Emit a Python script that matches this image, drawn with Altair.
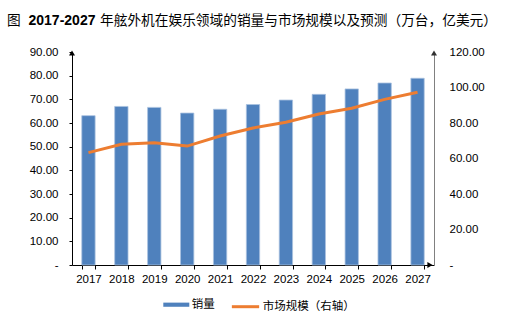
import altair as alt
import pandas as pd

years = ['2017', '2018', '2019', '2020', '2021', '2022', '2023', '2024', '2025', '2026', '2027']
sales = [63.1, 67.0, 66.6, 64.2, 65.8, 67.8, 69.7, 72.1, 74.4, 76.9, 78.9]
market = [63.3, 68.0, 68.9, 67.0, 72.7, 77.2, 80.4, 85.1, 88.3, 93.3, 97.3]
left_ticks = [0, 10, 20, 30, 40, 50, 60, 70, 80, 90]
right_ticks = [0, 20, 40, 60, 80, 100, 120]
title_prefix = '图'
title_years = '2017-2027'
title_rest = '年舷外机在娱乐领域的销量与市场规模以及预测（万台，亿美元）'
bar_label = '销量'
line_label = '市场规模（右轴）'

df = pd.DataFrame({'year': years, 'sales': sales, 'market': market,
                   'bar_s': bar_label, 'line_s': line_label})
one = pd.DataFrame({'k': [0]})

LAT = "Liberation Sans, Arial, 'Noto Sans CJK SC', sans-serif"
CJK = "'Noto Sans CJK SC', 'Liberation Sans', sans-serif"
W, H = 362, 213

x_enc = alt.X('year:N', sort=years, title=None,
              scale=alt.Scale(paddingInner=0.595, paddingOuter=0.2975),
              axis=alt.Axis(labelAngle=0, tickBand='extent', tickSize=4, labelPadding=4,
                            domainColor='black', tickColor='black', labelColor='black',
                            labelFontSize=11.5, labelFont=LAT, domainWidth=1, grid=False))

bars = alt.Chart(df).mark_bar(stroke='#A9C1E0', strokeWidth=0.8).encode(
    x=x_enc,
    y=alt.Y('sales:Q', title=None, scale=alt.Scale(domain=[0, 90], nice=False),
            axis=alt.Axis(values=left_ticks, grid=False, tickSize=3, labelPadding=11,
                          domainColor='black', tickColor='black', labelColor='black',
                          labelFontSize=11.5, labelFont=LAT,
                          labelExpr="datum.value == 0 ? '-\u00a0\u00a0' : format(datum.value, '.2f')")),
    color=alt.Color('bar_s:N', scale=alt.Scale(domain=[bar_label], range=['#4F81BD']),
                    legend=alt.Legend(orient='none', legendX=91.3, legendY=239.7, title=None,
                                      symbolType='M-1,-0.16H1V0.16H-1Z', symbolSize=676,
                                      symbolStrokeWidth=0, symbolOpacity=1, padding=0,
                                      labelOffset=2.5, labelFontSize=11.5, labelFont=CJK,
                                      labelColor='black'))
)

line = alt.Chart(df).mark_line(strokeWidth=3).encode(
    x=alt.X('year:N', sort=years),
    y=alt.Y('market:Q', title=None, scale=alt.Scale(domain=[0, 120], nice=False),
            axis=alt.Axis(orient='right', values=right_ticks, grid=False, ticks=False,
                          labelPadding=15, domainColor='#808080', labelColor='black',
                          labelFontSize=11.5, labelFont=LAT,
                          labelExpr="datum.value == 0 ? '-' : format(datum.value, '.2f')")),
    stroke=alt.Stroke('line_s:N', scale=alt.Scale(domain=[line_label], range=['#ED7D31']),
                      legend=alt.Legend(orient='none', legendX=158, legendY=239.2, title=None,
                                        symbolType='stroke', symbolSize=745,
                                        symbolStrokeWidth=3, padding=0, labelOffset=1.7,
                                        labelFontSize=11.5, labelFont=CJK, labelColor='black'))
)

arrow_left = alt.Chart(one).mark_point(shape='triangle-up', filled=True, size=36,
                                       color='black', opacity=1).encode(
    x=alt.value(0), y=alt.value(1))
arrow_right = alt.Chart(one).mark_point(shape='triangle-up', filled=True, size=36,
                                        color='#303030', opacity=1).encode(
    x=alt.value(W), y=alt.value(1))
arrow_x = alt.Chart(one).mark_point(shape='triangle-right', filled=True, size=36,
                                    color='black', opacity=1).encode(
    x=alt.value(W - 4), y=alt.value(H))

t1 = alt.Chart(one).mark_text(align='left', baseline='middle', font=CJK, fontSize=13.7,
                              color='black').encode(
    x=alt.value(-65), y=alt.value(-31), text=alt.value(title_prefix))
t2 = alt.Chart(one).mark_text(align='left', baseline='middle', font=LAT, fontSize=14,
                              fontWeight='bold', color='black').encode(
    x=alt.value(-43.5), y=alt.value(-31), text=alt.value(title_years))
t3 = alt.Chart(one).mark_text(align='left', baseline='middle', font=CJK, fontSize=13.7,
                              color='black').encode(
    x=alt.value(28), y=alt.value(-31), text=alt.value(title_rest))

chart = alt.layer(bars, line, arrow_left, arrow_right, arrow_x, t1, t2, t3).resolve_scale(
    y='independent'
).properties(
    width=W, height=H,
    autosize=alt.AutoSizeParams(type='none'),
    padding={'left': 72, 'top': 52, 'right': 512 - 72 - W, 'bottom': 322 - 52 - H},
    background='white'
).configure_view(stroke=None)

chart.save("out.html", embed_options={"renderer": "svg", "actions": False})
